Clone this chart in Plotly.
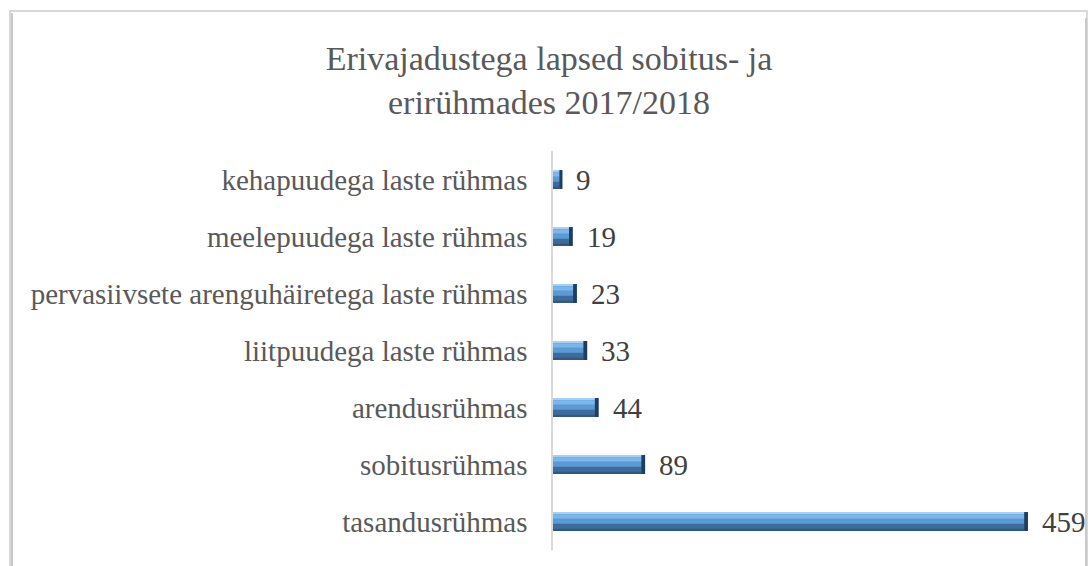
import plotly.graph_objects as go

categories = ["tasandusrühmas", "sobitusrühmas", "arendusrühmas", "liitpuudega laste rühmas",
              "pervasiivsete arenguhäiretega laste rühmas", "meelepuudega laste rühmas",
              "kehapuudega laste rühmas"]
values = [459, 89, 44, 33, 23, 19, 9]
title_lines = ["Erivajadustega lapsed sobitus- ja", "erirühmades 2017/2018"]

W, H = 1091, 566
L, R, T, B = 553, 1060, 151, 550
SERIF = "Liberation Serif, Times New Roman, serif"
fig = go.Figure()

bw = 0.33
cap = [min(3.5, v * 0.3) for v in values]
body = [v - c for v, c in zip(values, cap)]

# base (darker lower part)
fig.add_trace(go.Bar(y=categories, x=values, orientation="h", width=bw,
                     marker=dict(color="#3D6C9C", line=dict(width=0)), hoverinfo="skip"))
# main mid-blue body (upper part)
fig.add_trace(go.Bar(y=categories, x=body, orientation="h",
                     width=bw * 0.62, offset=bw / 2 - bw * 0.62,
                     marker=dict(color="#5B9BD5", line=dict(width=0)), hoverinfo="skip"))
# highlight band
fig.add_trace(go.Bar(y=categories, x=body, orientation="h",
                     width=bw * 0.22, offset=bw / 2 - bw * 0.34,
                     marker=dict(color="#7DB6EA", line=dict(width=0)), hoverinfo="skip"))
# top light edge
fig.add_trace(go.Bar(y=categories, x=body, orientation="h",
                     width=bw * 0.1, offset=bw / 2 - bw * 0.1,
                     marker=dict(color="#A9D0F3", line=dict(width=0)), hoverinfo="skip"))
# bottom shade edge
fig.add_trace(go.Bar(y=categories, x=body, orientation="h",
                     width=bw * 0.12, offset=-bw / 2,
                     marker=dict(color="#32587F", line=dict(width=0)), hoverinfo="skip"))
# dark right cap
fig.add_trace(go.Bar(y=categories, x=cap, base=body, orientation="h", width=bw,
                     marker=dict(color="#1F3D5E", line=dict(width=0)), hoverinfo="skip"))

for c, v in zip(categories, values):
    fig.add_annotation(x=v, y=c, text=str(v), showarrow=False, xanchor="left",
                       xshift=12, font=dict(family=SERIF, size=29, color="#404040"))

def px_x(px):
    return (px - L) / (R - L)

def px_y(py):
    return (B - py) / (B - T)

fig.add_shape(type="rect", xref="paper", yref="paper",
              x0=px_x(10), x1=px_x(1087), y0=px_y(620), y1=px_y(11),
              line=dict(color="#D9D9D9", width=2), layer="below")
fig.add_shape(type="line", xref="paper", yref="paper",
              x0=px_x(12), x1=px_x(12), y0=px_y(620), y1=px_y(13),
              line=dict(color="#C8C8C8", width=2), layer="below")
fig.add_shape(type="line", xref="paper", yref="paper",
              x0=px_x(1086), x1=px_x(1086), y0=px_y(620), y1=px_y(18),
              line=dict(color="#C8C8C8", width=2), layer="below")

fig.update_layout(
    width=W, height=H,
    margin=dict(l=L, r=W - R, t=T, b=H - B),
    barmode="overlay",
    showlegend=False,
    plot_bgcolor="white", paper_bgcolor="white",
    font=dict(family=SERIF, color="#404040"),
    title=dict(text="<br>".join(title_lines), x=549 / W, xanchor="center",
               y=1 - 70 / H, yanchor="middle",
               font=dict(family=SERIF, size=34, color="#595959")),
    xaxis=dict(range=[0, 490], visible=False, fixedrange=True),
    yaxis=dict(showline=True, linecolor="#D9D9D9", linewidth=1.5, ticks="",
               ticklabelstandoff=18, automargin=False, fixedrange=True,
               tickfont=dict(family=SERIF, size=29, color="#595959"),
               showgrid=False, zeroline=False),
)

fig.write_html("out.html", config={"displayModeBar": False},
               post_script="document.body.style.margin='0';")
